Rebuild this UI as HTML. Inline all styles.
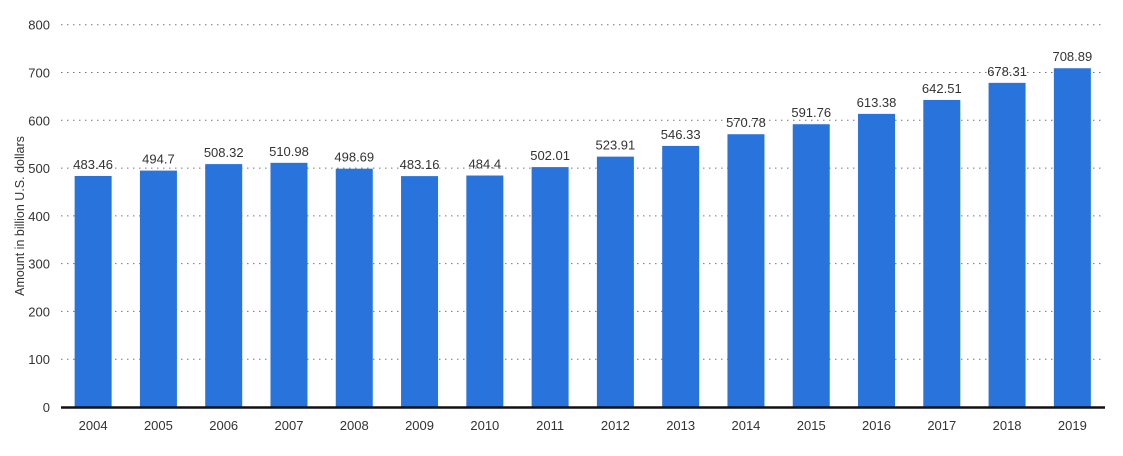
<!DOCTYPE html>
<html><head><meta charset="utf-8"><style>
body{margin:0;background:#fff;width:1123px;height:451px;overflow:hidden}
svg text{font-family:"Liberation Sans",Arial,sans-serif;fill:#333}
</style></head><body>
<svg width="1123" height="451" id="c"></svg>
<script>
const categories=["2004","2005","2006","2007","2008","2009","2010","2011","2012","2013","2014","2015","2016","2017","2018","2019"];
const values=[483.46,494.7,508.32,510.98,498.69,483.16,484.4,502.01,523.91,546.33,570.78,591.76,613.38,642.51,678.31,708.89];
const labels=["483.46","494.7","508.32","510.98","498.69","483.16","484.4","502.01","523.91","546.33","570.78","591.76","613.38","642.51","678.31","708.89"];
const yTicks=[0,100,200,300,400,500,600,700,800];
const NS="http://www.w3.org/2000/svg";
const svg=document.getElementById('c');
const L=60.5,R=1105,T=24.7,B=407,yMax=800;
const y=v=>B-(v/yMax)*(B-T);
const band=(R-L)/categories.length;
const x=i=>L+band*i+band/2;
function mk(t,a,p){const e=document.createElementNS(NS,t);for(const k in a)e.setAttribute(k,a[k]);(p||svg).appendChild(e);return e;}
const gg=mk('g',{});


yTicks.forEach(v=>{
 if(v>0){const l=mk('line',{x1:61,x2:1105,y1:y(v),y2:y(v),stroke:'#777','stroke-width':1,'stroke-dasharray':'1.5,4.5'},gg);
 
 }
 const t=mk('text',{x:50,y:y(v)+5,'text-anchor':'end','font-size':13});
 t.textContent=v;
 
 
});
categories.forEach((c,i)=>{
 const w=37,cx=x(i);
 const r=mk('rect',{x:cx-w/2,y:y(values[i]),width:w,height:B-y(values[i]),fill:'#2874dc'});
 
 
 const t=mk('text',{x:cx,y:y(values[i])-7,'text-anchor':'middle','font-size':13});
 t.textContent=labels[i];
 
 
 const xt=mk('text',{x:cx,y:430,'text-anchor':'middle','font-size':13});
 xt.textContent=c;
 
 
});
const ax=mk('line',{x1:61,x2:1105,y1:B+0.5,y2:B+0.5,stroke:'#111','stroke-width':2.5});


const yt=mk('text',{x:0,y:0,'text-anchor':'middle','font-size':12.5,transform:'translate(24,216) rotate(-90)'});
yt.textContent='Amount in billion U.S. dollars';


</script>
</body></html>
